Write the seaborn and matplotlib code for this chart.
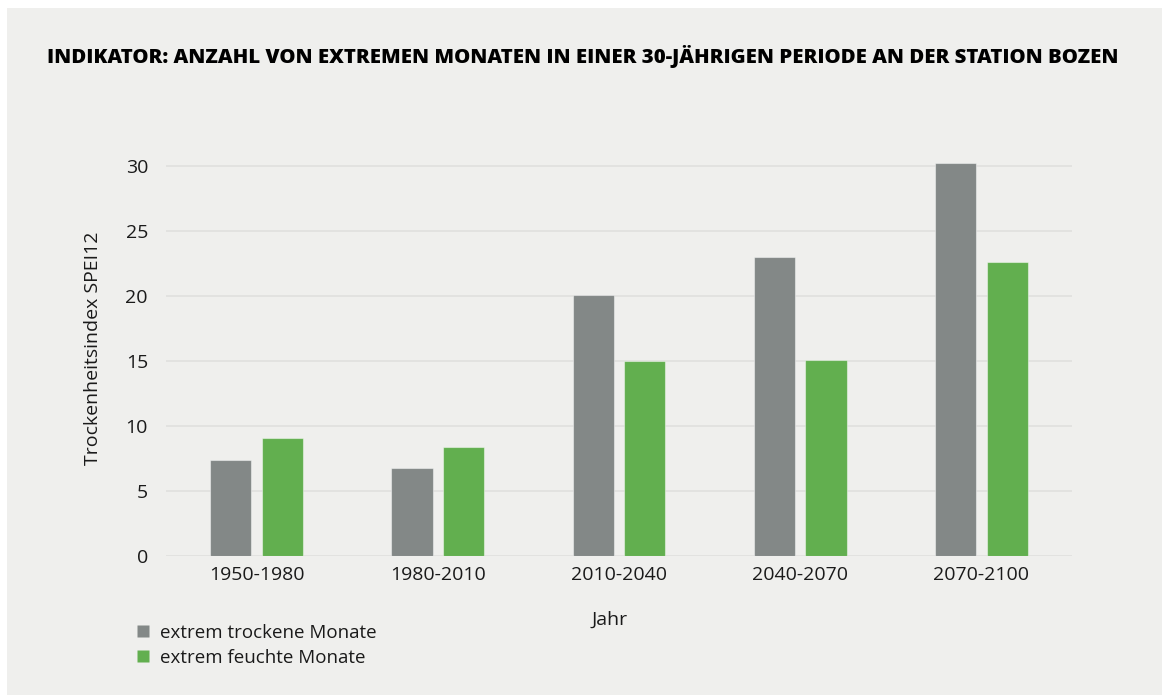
import seaborn as sns
import matplotlib.pyplot as plt
import pandas as pd
from matplotlib.patches import Rectangle
from matplotlib.lines import Line2D

# Data
perioden = ['1950-1980', '1980-2010', '2010-2040', '2040-2070', '2070-2100']
trocken = [7.4, 6.8, 20.1, 23.0, 30.2]
feucht = [9.1, 8.4, 15.0, 15.1, 22.6]
serien = ['extrem trockene Monate', 'extrem feuchte Monate']
farben = ['#838887', '#62af4f']

df = pd.DataFrame({
    'Jahr': perioden * 2,
    'Wert': trocken + feucht,
    'Art': [serien[0]] * len(perioden) + [serien[1]] * len(perioden),
})

bg = '#efefed'
txt = '#1a1a1a'
sns.set_theme(style='white')
plt.rcParams['font.family'] = ['Open Sans', 'DejaVu Sans']

W, H = 1164, 697
fig = plt.figure(figsize=(W / 100, H / 100), dpi=100)
fig.patch.set_facecolor('white')
# grey panel with thin white border
fig.patches.append(Rectangle((7 / W, 2 / H), (W - 9) / W, (H - 10) / H,
                             transform=fig.transFigure, facecolor=bg,
                             edgecolor='none', zorder=-1))

ax = fig.add_axes([166 / W, 1 - 556 / H, (1072 - 166) / W, (556 - 140) / H])
ax.set_facecolor(bg)
ax.patch.set_alpha(0)

sns.barplot(data=df, x='Jahr', y='Wert', hue='Art', palette=farben,
            saturation=1, width=0.57, gap=0.2, legend=False, ax=ax,
            edgecolor=(1, 1, 1, 0.45), linewidth=0.8, zorder=3)

ax.set_ylim(0, 32)
ax.set_xlim(-0.5, 4.5)
ax.set_yticks([0, 5, 10, 15, 20, 25, 30])
ax.yaxis.grid(True, color='#e0e0de', linewidth=1.2, zorder=0)
ax.set_axisbelow(True)
for s in ax.spines.values():
    s.set_visible(False)
ax.tick_params(axis='both', length=0, labelsize=14, colors=txt)
ax.tick_params(axis='y', pad=13)
ax.tick_params(axis='x', pad=7)
ax.set_xlabel('')
ax.set_ylabel('Trockenheitsindex SPEI12', fontsize=14, color=txt, labelpad=17)

fig.text(610 / W, 1 - 620 / H, 'Jahr', fontsize=14, color=txt,
         ha='center', va='center')

fig.text(47 / W, 1 - 57 / H,
         'INDIKATOR: ANZAHL VON EXTREMEN MONATEN IN EINER 30-JÄHRIGEN PERIODE AN DER STATION BOZEN',
         fontsize=14.7, fontweight=900, color='black', ha='left', va='center')

handles = [Line2D([], [], marker='s', linestyle='none', markersize=9,
                  markerfacecolor=c, markeredgecolor='none') for c in farben]
fig.legend(handles, serien, loc='upper left', bbox_to_anchor=(124 / W, 1 - 616 / H),
           frameon=False, fontsize=13.5, handletextpad=0.3, labelspacing=0.4,
           borderaxespad=0, handlelength=1.2, labelcolor=txt)

fig.savefig('out.png', dpi=100, facecolor='white')
